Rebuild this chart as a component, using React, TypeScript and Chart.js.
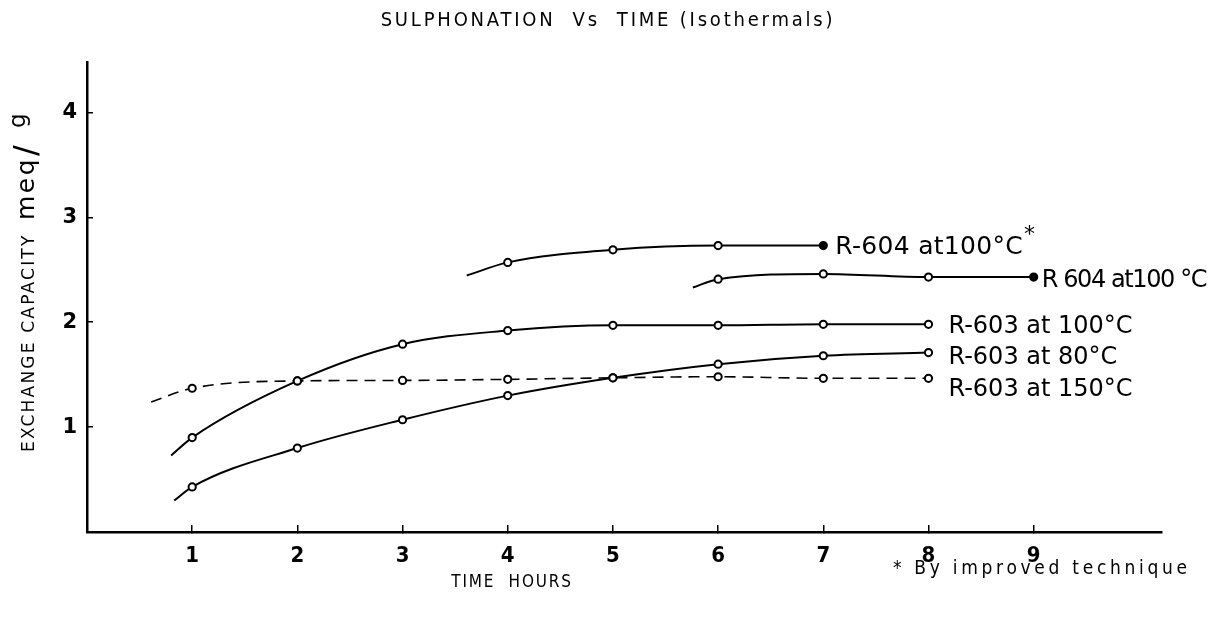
import { useEffect, useRef } from "react";
import { Chart, registerables } from "chart.js";

Chart.register(...registerables);

// ---- data ----
const xTickValues = [1, 2, 3, 4, 5, 6, 7, 8, 9];
const yTickValues = [1, 2, 3, 4];

const r603at80Time = [0.83, 1, 2, 3, 4, 5, 6, 7, 8];
const r603at80 = [0.3, 0.43, 0.8, 1.07, 1.3, 1.47, 1.6, 1.68, 1.71];

const r603at100Time = [0.8, 1, 2, 3, 4, 5, 6, 7, 8];
const r603at100 = [0.73, 0.9, 1.44, 1.79, 1.92, 1.97, 1.97, 1.98, 1.98];

const r603at150Time = [0.61, 1, 2, 3, 4, 5, 6, 7, 8];
const r603at150 = [1.24, 1.37, 1.44, 1.445, 1.455, 1.47, 1.48, 1.465, 1.465];

const r604ImprovedTime = [3.61, 4, 5, 6, 7];
const r604Improved = [2.445, 2.57, 2.69, 2.73, 2.73];

const r604Time = [5.76, 6, 7, 8, 9];
const r604 = [2.33, 2.41, 2.46, 2.43, 2.43];

const seriesLabels = [
  "R-604 at100°C",
  "R 604 at100 °C",
  "R-603 at 100°C",
  "R-603 at 80°C",
  "R-603 at 150°C",
];

const titleText = "SULPHONATION  Vs  TIME (Isothermals)";
const yTitleMain = "EXCHANGE CAPACITY";
const xTitle = "TIME  HOURS";
const footnote = "* By improved technique";

const COND = "'DejaVu Sans Condensed', 'DejaVu Sans', sans-serif";
const SANS = "'DejaVu Sans', sans-serif";

const toPoints = (xs: number[], ys: number[]) => xs.map((x, i) => ({ x, y: ys[i] }));

function makeDataset(xs: number[], ys: number[], opts: any = {}) {
  return {
    data: toPoints(xs, ys),
    showLine: true,
    borderColor: "#000",
    borderWidth: 2,
    pointRadius: xs.map((_, i) => (i === 0 ? 0 : 3.6)),
    pointBorderColor: "#000",
    pointBackgroundColor: "#fff",
    pointBorderWidth: 2,
    cubicInterpolationMode: "monotone",
    fill: false,
    ...opts,
  };
}

const textPlugin = {
  id: "textPlugin",
  afterDraw(chart: any) {
    const ctx: CanvasRenderingContext2D = chart.ctx;
    const xs = chart.scales.x;
    const ys = chart.scales.y;
    const draw = (
      text: string,
      x: number,
      y: number,
      font: string,
      spacing: number,
      align: CanvasTextAlign = "left",
      baseline: CanvasTextBaseline = "middle"
    ) => {
      ctx.font = font;
      (ctx as any).letterSpacing = spacing + "px";
      ctx.textAlign = align;
      ctx.textBaseline = baseline;
      ctx.fillText(text, x, y);
    };
    ctx.save();
    ctx.fillStyle = "#000";

    // title
    draw(titleText, 608, 21, `20px ${COND}`, 2.8, "center");

    // y-axis title (rotated)
    ctx.save();
    ctx.translate(34, 452);
    ctx.rotate(-Math.PI / 2);
    draw(yTitleMain, 0, 0, `17px ${SANS}`, 2.2, "left", "alphabetic");
    draw("meq", 232, 0, `25px ${SANS}`, 2.5, "left", "alphabetic");
    draw("/", 296, 2, `32px ${SANS}`, 0, "left", "alphabetic");
    draw("g", 324, -9, `23px ${SANS}`, 0, "left", "alphabetic");
    ctx.restore();

    // x-axis title
    draw(xTitle, 512, 583, `17px ${COND}`, 1.8, "center");

    // footnote
    draw(footnote, 893, 569, `19px ${COND}`, 3.7, "left");

    // series labels next to last points
    const lastPx = (tx: number[], vy: number[]) => ({
      x: xs.getPixelForValue(tx[tx.length - 1]),
      y: ys.getPixelForValue(vy[vy.length - 1]),
    });
    const labelFont = `24px ${SANS}`;
    let p = lastPx(r604ImprovedTime, r604Improved);
    draw(seriesLabels[0], p.x + 12, p.y + 2, `25px ${SANS}`, 0.3);
    ctx.font = `25px ${SANS}`;
    (ctx as any).letterSpacing = "0.3px";
    const w0 = ctx.measureText(seriesLabels[0]).width;
    draw("*", p.x + 12 + w0 + 1, p.y - 10, `22px ${SANS}`, 0);

    p = lastPx(r604Time, r604);
    draw(seriesLabels[1], p.x + 8, p.y + 4, labelFont, -1.4);

    p = lastPx(r603at100Time, r603at100);
    draw(seriesLabels[2], p.x + 20, p.y + 2, labelFont, 0);

    p = lastPx(r603at80Time, r603at80);
    draw(seriesLabels[3], p.x + 20, p.y + 5, labelFont, 0);

    p = lastPx(r603at150Time, r603at150);
    draw(seriesLabels[4], p.x + 20, p.y + 11, labelFont, 0);

    ctx.restore();
  },
};

export default function App() {
  const ref = useRef<HTMLCanvasElement | null>(null);

  useEffect(() => {
    if (!ref.current) return;
    const chart = new Chart(ref.current, {
      type: "scatter",
      data: {
        datasets: [
          makeDataset(r603at150Time, r603at150, { borderDash: [11, 7], borderWidth: 1.6 }),
          makeDataset(r603at80Time, r603at80),
          makeDataset(r603at100Time, r603at100),
          makeDataset(r604ImprovedTime, r604Improved, {
            pointBackgroundColor: r604ImprovedTime.map((_, i) =>
              i === r604ImprovedTime.length - 1 ? "#000" : "#fff"
            ),
          }),
          makeDataset(r604Time, r604, {
            pointBackgroundColor: r604Time.map((_, i) => (i === r604Time.length - 1 ? "#000" : "#fff")),
          }),
        ] as any,
      },
      options: {
        animation: false,
        responsive: false,
        layout: { padding: { top: 62, right: 55, bottom: 0, left: 0 } },
        plugins: {
          legend: { display: false },
          title: { display: false },
          tooltip: { enabled: false },
        },
        scales: {
          x: {
            type: "linear",
            min: 0,
            max: 10.22,
            afterBuildTicks: (s: any) => {
              s.ticks = xTickValues.map((v) => ({ value: v }));
            },
            afterFit: (s: any) => {
              s.height = 89;
            },
            grid: {
              display: true,
              drawOnChartArea: false,
              drawTicks: true,
              tickLength: -7,
              color: "#000",
              lineWidth: 1.5,
            },
            border: { display: true, color: "#000", width: 2.5 },
            ticks: {
              color: "#000",
              font: { family: COND, size: 22, weight: "bold" },
              padding: 18,
              maxRotation: 0,
              autoSkip: false,
            },
          },
          y: {
            type: "linear",
            min: 0,
            max: 4.48,
            afterBuildTicks: (s: any) => {
              s.ticks = yTickValues.map((v) => ({ value: v }));
            },
            afterFit: (s: any) => {
              s.width = 87;
            },
            grid: {
              display: true,
              drawOnChartArea: false,
              drawTicks: true,
              tickLength: -6,
              color: "#000",
              lineWidth: 1.5,
            },
            border: { display: true, color: "#000", width: 2.5 },
            ticks: {
              color: "#000",
              font: { family: SANS, size: 21, weight: "bold" },
              padding: 16,
              autoSkip: false,
            },
          },
        },
      } as any,
      plugins: [textPlugin],
    });
    return () => chart.destroy();
  }, []);

  return (
    <div style={{ position: "fixed", left: 0, top: 0, width: 1217, height: 621, background: "#fff" }}>
      <canvas ref={ref} width={1217} height={621} style={{ display: "block", width: 1217, height: 621 }} />
    </div>
  );
}
